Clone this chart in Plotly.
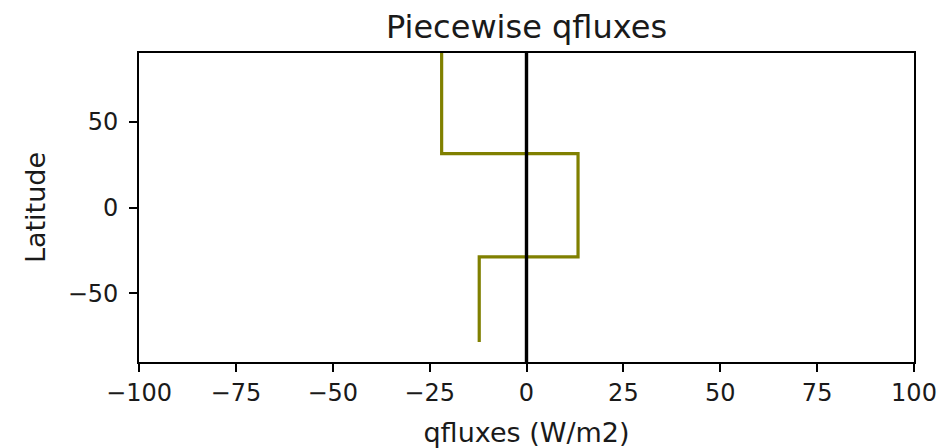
import plotly.graph_objects as go

# Piecewise prescribed ocean heat flux (W/m2) as a function of latitude
latitude = [-78.3, -28.8, -28.8, 31.4, 31.4, 90.0]
qflux = [-12.2, -12.2, 13.3, 13.3, -21.9, -21.9]

x_ticks = [-100, -75, -50, -25, 0, 25, 50, 75, 100]
y_ticks = [-50, 0, 50]


def fmt(v):
    return ("\u2212" + str(abs(v))) if v < 0 else str(v)


font = "DejaVu Sans"
ink = "#1a1a1a"

fig = go.Figure()
fig.add_trace(go.Scatter(
    x=qflux, y=latitude, mode="lines",
    line=dict(color="#808000", width=3.2),
    showlegend=False,
))
fig.add_trace(go.Scatter(
    x=[0, 0], y=[-90, 90], mode="lines",
    line=dict(color="black", width=3.4),
    showlegend=False,
))

axis_common = dict(
    showline=True, linecolor="black", linewidth=1.6, mirror=True,
    ticks="outside", ticklen=8, tickwidth=1.5, tickcolor="black",
    automargin=False,
    showgrid=False, zeroline=False,
    tickfont=dict(family=font, size=24, color=ink),
)

fig.update_layout(
    width=940, height=448,
    margin=dict(l=139, r=26, t=53, b=86, autoexpand=False),
    paper_bgcolor="white", plot_bgcolor="white",
    title=dict(text="Piecewise qfluxes", xref="paper", x=0.5, xanchor="center",
               yref="container", y=0.94, yanchor="middle",
               font=dict(family=font, size=32, color=ink)),
    xaxis=dict(range=[-100, 100], tickvals=x_ticks,
               ticktext=[fmt(v) for v in x_ticks],
               ticklabelstandoff=0,
               title=dict(text="qfluxes (W/m2)", standoff=19,
                          font=dict(family=font, size=27, color=ink)),
               **axis_common),
    yaxis=dict(range=[-90, 90], tickvals=y_ticks,
               ticktext=[fmt(v) for v in y_ticks],
               ticklabelstandoff=6,
               title=dict(text="Latitude", standoff=14,
                          font=dict(family=font, size=27, color=ink)),
               **axis_common),
)

fig.write_html("out.html")
